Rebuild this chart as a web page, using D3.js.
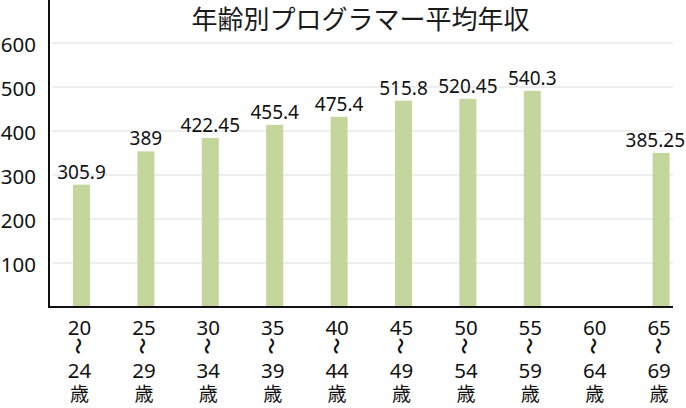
<!DOCTYPE html>
<html><head><meta charset="utf-8">
<script src="https://cdn.jsdelivr.net/npm/d3@7"></script>
<style>
html,body{margin:0;padding:0;background:#fff;}
svg{display:block;}
</style></head>
<body>
<svg id="chart" width="686" height="408"></svg>
<script>
const title = "年齢別プログラマー平均年収";
const ageFrom = ["20","25","30","35","40","45","50","55","60","65"];
const ageTo   = ["24","29","34","39","44","49","54","59","64","69"];
const values  = [305.9, 389, 422.45, 455.4, 475.4, 515.8, 520.45, 540.3, null, 385.25];
const valueLabels = ["305.9","389","422.45","455.4","475.4","515.8","520.45","540.3","","385.25"];
const yTicks = [100, 200, 300, 400, 500, 600];

const W = 686, H = 408;
const plotLeft = 49, plotRight = 673, plotBase = 307, plotTop = 43;
const svg = d3.select("#chart");
const latin = "'Noto Sans', 'Open Sans', sans-serif";
const cjk = "'Noto Sans CJK JP', 'Noto Sans', sans-serif";

const x = d3.scalePoint().domain(ageFrom).range([81.5, 661.1]);
const y = d3.scaleLinear().domain([0, 600]).range([plotBase, plotTop]);      // axis / gridlines
const yBar = d3.scaleLinear().domain([0, 660]).range([plotBase, plotTop]);   // bars as drawn in the source graphic
const barW = 17;

// gridlines
svg.append("g").selectAll("line").data(yTicks).join("line")
  .attr("x1", plotLeft + 3).attr("x2", plotRight)
  .attr("y1", d => y(d)).attr("y2", d => y(d))
  .attr("stroke", "#e9e9e9").attr("stroke-width", 1.6);

// y tick labels
svg.append("g").selectAll("text").data(yTicks).join("text")
  .attr("x", 36).attr("y", d => y(d) + 1)
  .attr("text-anchor", "end").attr("dominant-baseline", "central")
  .attr("font-family", latin).attr("font-size", 20.5).attr("fill", "#111")
  .text(d => d);

// bars
const data = ageFrom.map((a, i) => ({a, v: values[i], label: valueLabels[i], to: ageTo[i]}));
svg.append("g").selectAll("rect").data(data.filter(d => d.v != null)).join("rect")
  .attr("x", d => x(d.a) - barW / 2).attr("width", barW)
  .attr("y", d => yBar(d.v)).attr("height", d => plotBase - yBar(d.v))
  .attr("fill", "#c3d69b");

// value labels
svg.append("g").selectAll("text").data(data.filter(d => d.v != null)).join("text")
  .attr("x", d => x(d.a)).attr("y", d => yBar(d.v) - 6)
  .attr("text-anchor", "middle")
  .attr("font-family", latin).attr("font-size", 19).attr("fill", "#111")
  .text(d => d.label)
  .each(function() {
    const b = this.getBBox();
    if (b.x + b.width > W - 1) d3.select(this).attr("x", +d3.select(this).attr("x") - (b.x + b.width - (W - 1)));
  });

// axes lines
svg.append("line").attr("x1", plotLeft).attr("x2", plotLeft).attr("y1", 0).attr("y2", plotBase + 1)
  .attr("stroke", "#111").attr("stroke-width", 2);
svg.append("line").attr("x1", plotLeft - 1).attr("x2", plotRight).attr("y1", plotBase).attr("y2", plotBase)
  .attr("stroke", "#111").attr("stroke-width", 2);

// x labels
const xl = svg.append("g").selectAll("g").data(data).join("g")
  .attr("transform", d => `translate(${x(d.a) - 2},0)`);
xl.append("text").attr("y", 327).attr("text-anchor", "middle").attr("dominant-baseline", "central")
  .attr("font-family", latin).attr("font-size", 20.5).attr("fill", "#111").text(d => d.a);
xl.append("text").attr("transform", "translate(0,346) rotate(90)")
  .attr("text-anchor", "middle").attr("dominant-baseline", "central")
  .attr("font-family", cjk).attr("font-size", 17).attr("font-weight", "bold").attr("fill", "#111").text("〜");
const bottom = xl.append("text").attr("text-anchor", "middle").attr("dominant-baseline", "central")
  .attr("fill", "#111");
bottom.append("tspan").attr("x", 0).attr("y", 370)
  .attr("font-family", latin).attr("font-size", 20.5).text(d => d.to);
bottom.append("tspan").attr("x", 0).attr("y", 392)
  .attr("font-family", cjk).attr("font-size", 19).text("歳");

// title
svg.append("text").attr("x", 360.5).attr("y", 17)
  .attr("text-anchor", "middle").attr("dominant-baseline", "central")
  .attr("font-family", cjk).attr("font-size", 26).attr("fill", "#1a1a1a")
  .text(title);
</script>
</body></html>
